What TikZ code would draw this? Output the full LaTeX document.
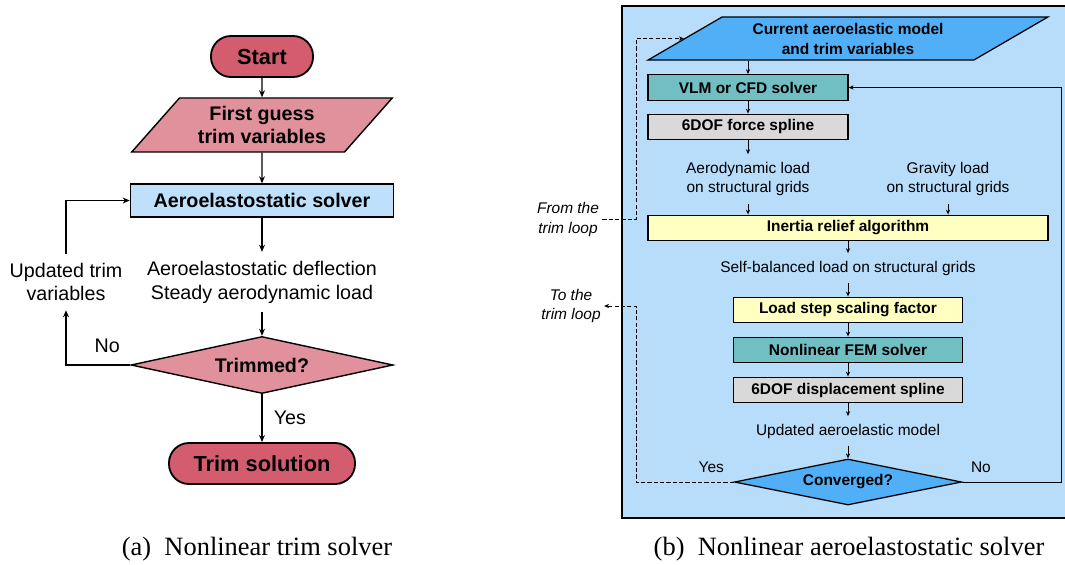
\documentclass[tikz,border=0pt]{standalone}
\usepackage{fontspec}
\setmainfont{Liberation Sans}
\newfontfamily\capfont{Liberation Serif}
\usepackage{tikz}
\usetikzlibrary{positioning}
\usetikzlibrary{arrows.meta, shapes.geometric}
\definecolor{startred}{RGB}{211,93,111}
\definecolor{guesspink}{RGB}{224,145,155}
\definecolor{solverblue}{RGB}{190,224,251}
\definecolor{panelblue}{RGB}{184,221,251}
\definecolor{inputblue}{RGB}{80,175,247}
\definecolor{solverteal}{RGB}{113,190,195}
\definecolor{splinegray}{RGB}{217,217,217}
\definecolor{reliefyellow}{RGB}{255,255,194}

\tikzset{
  termbox/.style={draw, line width=1.3pt, fill=startred, rounded corners=0.5cm, minimum height=1.025cm, inner sep=0pt, font=\fontsize{15.5}{18}\selectfont\bfseries},
  leftbox/.style={draw, line width=1pt, fill=solverblue, minimum width=6.575cm, minimum height=0.825cm, inner sep=0pt, font=\fontsize{14}{17}\selectfont\bfseries},
  leftpara/.style={trapezium, trapezium left angle=46, trapezium right angle=134, trapezium stretches=true, draw, line width=1pt, fill=guesspink, minimum width=6.525cm, minimum height=1.35cm, inner sep=0pt, align=center, font=\fontsize{14}{17}\selectfont\bfseries},
  leftdiam/.style={diamond, aspect=4.6, draw, line width=1pt, fill=guesspink, minimum width=6.55cm, minimum height=1.425cm, inner sep=0pt, font=\fontsize{14}{17}\selectfont\bfseries},
  lefttext/.style={align=center, inner sep=6pt, font=\fontsize{14}{17}\selectfont},
  lefttag/.style={inner sep=1pt, font=\fontsize{14}{17}\selectfont},
  rightbox/.style={draw, line width=0.9pt, minimum height=0.64cm, inner sep=0pt, font=\fontsize{11}{14.2}\selectfont\bfseries},
  rightpara/.style={trapezium, trapezium left angle=29.2, trapezium right angle=150.8, trapezium stretches=true, draw, line width=0.9pt, fill=inputblue, minimum width=10cm, minimum height=1.075cm, inner sep=0pt, align=center, font=\fontsize{11}{14.2}\selectfont\bfseries},
  rightdiam/.style={diamond, aspect=4.9, draw, line width=0.9pt, fill=inputblue, minimum width=5.675cm, minimum height=1.15cm, inner sep=0pt, font=\fontsize{11}{14.2}\selectfont\bfseries},
  righttext/.style={align=center, inner sep=5pt, font=\fontsize{11}{14.2}\selectfont},
  righttag/.style={inner sep=1pt, font=\fontsize{11}{14.2}\selectfont},
  looptext/.style={align=center, inner sep=2pt, font=\fontsize{11}{14.2}\selectfont\itshape},
  thinflow/.style={->, line width=0.6pt, >={Stealth[length=3.5pt,width=3pt]}},
  dashline/.style={dash pattern=on 3pt off 1.5pt},
  captext/.style={font=\fontsize{18.8}{22}\capfont},
}

\begin{document}
\begin{tikzpicture}[x=0.025cm, y=-0.025cm, line width=0.9pt, >={Stealth[length=5pt,width=4.2pt]}]
    \useasboundingbox (0,0) rectangle (1065,565);

    % (a) trim loop
    \node[termbox, minimum width=2.55cm] (start) at (262,56.5) {Start};
    \node[leftpara] (guess) at (262,125) {First guess\\trim variables};
    \node[leftbox] (aerosolver) at (262,200.5) {Aeroelastostatic solver};
    \node[lefttext] (deflection) at (262,282) {Aeroelastostatic deflection\\Steady aerodynamic load};
    \node[leftdiam] (trimmed) at (262,365) {Trimmed?};
    \node[termbox, minimum width=4.65cm] (trimsol) at (262,463.5) {Trim solution};
    \node[lefttext] (updtrim) at (66,282) {Updated trim\\variables};

    \draw[->] (start) -- (guess);
    \draw[->] (guess) -- (aerosolver);
    \draw[->] (aerosolver) -- (deflection);
    \draw[->] (deflection) -- (trimmed);
    \draw[->] (trimmed) -- node[lefttag, right=7pt] {Yes} (trimsol);
    \draw[->] (trimmed.west) -| node[lefttag, pos=0.18, above=7pt] {No} (updtrim);
    \draw[->] (updtrim) |- (aerosolver);

    % (b) aeroelastostatic solver, blue panel behind
    \draw[line width=2pt, fill=panelblue] (622,6) rectangle (1067,518);

    \node[rightpara] (curmodel) at (848,38.5) {Current aeroelastic model\\and trim variables};
    \node[rightbox, fill=solverteal, minimum width=5cm] (vlm) at (748,87.5) {VLM or CFD solver};
    \node[rightbox, fill=splinegray, minimum width=5cm] (forcespl) at (748,127) {6DOF force spline};
    \node[righttext] (aeroload) at (748,179) {Aerodynamic load\\on structural grids};
    \node[righttext] (gravload) at (948,179) {Gravity load\\on structural grids};
    \node[rightbox, fill=reliefyellow, minimum width=10cm] (inertia) at (848,228) {Inertia relief algorithm};
    \node[righttext] (selfbal) at (848,268) {Self-balanced load on structural grids};
    \node[rightbox, fill=reliefyellow, minimum width=5.725cm] (loadstep) at (848,310) {Load step scaling factor};
    \node[rightbox, fill=solverteal, minimum width=5.725cm] (femsolver) at (848,350) {Nonlinear FEM solver};
    \node[rightbox, fill=splinegray, minimum width=5.725cm] (dispspl) at (848,390) {6DOF displacement spline};
    \node[righttext] (updmodel) at (848,431) {Updated aeroelastic model};
    \node[rightdiam] (converged) at (848,482) {Converged?};

    % links to the trim loop
    \node[looptext] (fromloop) at (568,219.5) {From the\\trim loop};
    \node[looptext] (toloop) at (571,306) {To the\\trim loop};
    \coordinate (fromcorner) at (636,219.5);
    \coordinate (tocorner) at (636,482);
    \coordinate (nocorner) at (1061,482);

    \draw[thinflow] (curmodel.south -| vlm) -- (vlm);
    \draw[thinflow] (vlm) -- (forcespl);
    \draw[thinflow] (forcespl) -- (aeroload);
    \draw[thinflow] (aeroload) -- (aeroload |- inertia.north);
    \draw[thinflow] (gravload) -- (gravload |- inertia.north);
    \draw[thinflow] (inertia) -- (selfbal);
    \draw[thinflow] (selfbal) -- (loadstep);
    \draw[thinflow] (loadstep) -- (femsolver);
    \draw[thinflow] (femsolver) -- (dispspl);
    \draw[thinflow] (dispspl) -- (updmodel);
    \draw[thinflow] (updmodel) -- (converged);
    \draw[thinflow] (converged.east) -- node[righttag, pos=0.19, above=5pt] {No} (nocorner) |- (vlm.east);
    \draw[thinflow, dashline] (converged.west) -- node[righttag, pos=0.23, above=5pt] {Yes} (tocorner) |- (toloop);
    \draw[thinflow, dashline] (fromloop) -- (fromcorner) |- (curmodel);

    % captions
    \node[captext] (capa) at (257,549) {(a)\hspace{0.5em}Nonlinear trim solver};
    \node[captext] (capb) at (849,549) {(b)\hspace{0.5em}Nonlinear aeroelastostatic solver};
\end{tikzpicture}
\end{document}
